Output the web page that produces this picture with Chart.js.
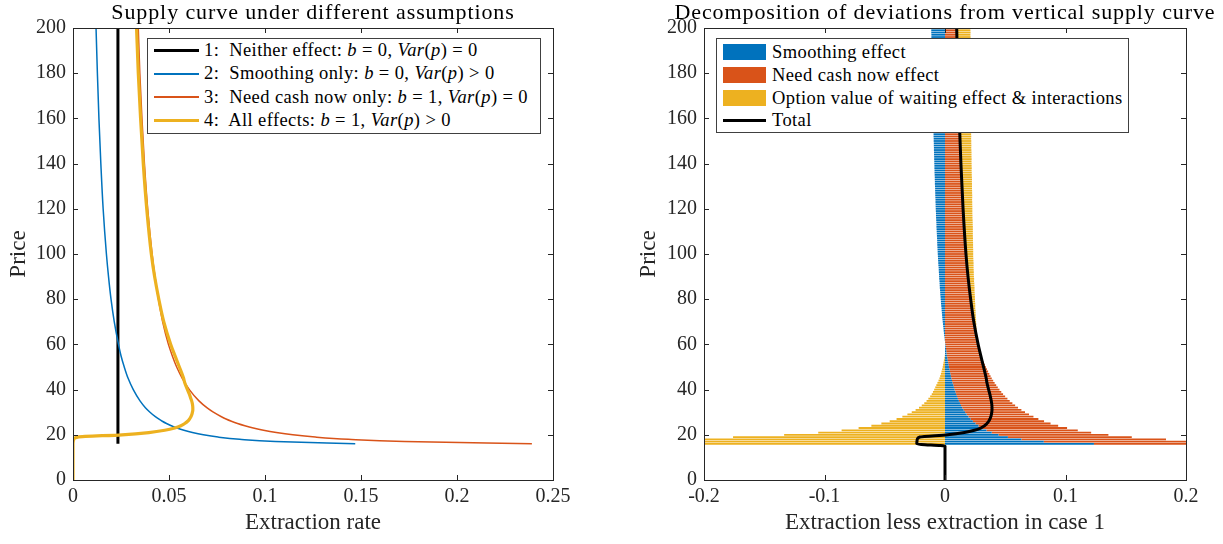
<!DOCTYPE html>
<html>
<head>
<meta charset="utf-8">
<script src="https://cdn.jsdelivr.net/npm/chart.js@4.4.1/dist/chart.umd.min.js"></script>
<style>
  body { margin: 0; width: 1223px; height: 544px; background: #fff; position: relative; overflow: hidden;
         font-family: 'Liberation Serif', 'DejaVu Serif', serif; color: #000; }
  canvas { position: absolute; top: 0; }
  #left  { left: 0; }
  #right { left: 620px; }
  .titre { position: absolute; top: 0; font-size: 22px; letter-spacing: 0.9px; line-height: 24px; white-space: nowrap; transform: translateX(-50%); }
  .legende { position: absolute; background: #fff; border: 1px solid #404040; box-sizing: border-box; }
  .ligne { position: absolute; left: 6px; height: 22px; display: flex; align-items: center; font-size: 18.5px; letter-spacing: 0.4px; white-space: nowrap; }
  .trait { display: inline-block; width: 45px; margin-right: 5px; }
  .carre { display: inline-block; width: 43px; height: 16px; margin-right: 6px; }
  i { font-style: italic; }
</style>
</head>
<body>
<canvas id="left" width="600" height="544"></canvas>
<canvas id="right" width="603" height="544"></canvas>

<div class="titre" style="left:313px">Supply curve under different assumptions</div>
<div class="titre" style="left:945px">Decomposition of deviations from vertical supply curve</div>

<div class="legende" style="left:147px;top:38px;width:394px;height:96px">
  <div class="ligne" style="top:0px"><span class="trait" style="height:3px;background:#000"></span>1:&nbsp; Neither effect:&nbsp; <i>b</i>&nbsp;=&nbsp;0, <i>&nbsp;Var</i>(<i>p</i>)&nbsp;=&nbsp;0</div>
  <div class="ligne" style="top:23.5px"><span class="trait" style="height:2px;background:#0072BD"></span>2:&nbsp; Smoothing only:&nbsp; <i>b</i>&nbsp;=&nbsp;0, <i>&nbsp;Var</i>(<i>p</i>)&nbsp;&gt;&nbsp;0</div>
  <div class="ligne" style="top:47px"><span class="trait" style="height:2px;background:#D95319"></span>3:&nbsp; Need cash now only:&nbsp; <i>b</i>&nbsp;=&nbsp;1, <i>&nbsp;Var</i>(<i>p</i>)&nbsp;=&nbsp;0</div>
  <div class="ligne" style="top:70px"><span class="trait" style="height:3px;background:#EDB120"></span>4:&nbsp; All effects:&nbsp; <i>b</i>&nbsp;=&nbsp;1, <i>&nbsp;Var</i>(<i>p</i>)&nbsp;&gt;&nbsp;0</div>
</div>

<div class="legende" style="left:716px;top:38px;width:413px;height:95px">
  <div class="ligne" style="top:2px"><span class="carre" style="background:#0072BD"></span>Smoothing effect</div>
  <div class="ligne" style="top:25px"><span class="carre" style="background:#D95319"></span>Need cash now effect</div>
  <div class="ligne" style="top:48px"><span class="carre" style="background:#EDB120"></span>Option value of waiting effect &amp; interactions</div>
  <div class="ligne" style="top:70px"><span class="trait" style="width:43px;margin-right:6px;height:3px;background:#000"></span>Total</div>
</div>

<script>
// ── DONNÉES PANNEAU GAUCHE (taux d'extraction selon le prix) ──
const case1Price = [16, 200];
const case1X     = [0.0234, 0.0234];

const casePrice = [16, 17, 18, 19, 20, 21, 22, 23, 24, 25, 26, 27, 28, 30, 32, 35, 40, 45, 50, 55, 60, 70, 80, 90, 100, 120, 140, 160, 180, 200];
const case2X = [0.1470, 0.1054, 0.0868, 0.0756, 0.0679, 0.0622, 0.0578, 0.0542, 0.0512, 0.0487, 0.0465, 0.0446, 0.0429, 0.0401, 0.0377,
                0.0349, 0.0314, 0.0287, 0.0267, 0.0250, 0.0237, 0.0215, 0.0198, 0.0185, 0.0174, 0.0157, 0.0145, 0.0135, 0.0127, 0.0120];
const case3X = [0.2390, 0.1726, 0.1434, 0.1262, 0.1145, 0.1059, 0.0992, 0.0939, 0.0895, 0.0857, 0.0825, 0.0797, 0.0773, 0.0731, 0.0697,
                0.0656, 0.0606, 0.0569, 0.0540, 0.0517, 0.0497, 0.0467, 0.0445, 0.0427, 0.0412, 0.0389, 0.0372, 0.0359, 0.0348, 0.0340];

const case4Price = [0, 15, 16, 17, 18, 19, 20, 21, 22, 23, 24, 25, 26, 27, 28, 29, 30, 31, 32, 33, 34, 35, 36, 38, 40, 43, 45, 50, 55, 60, 70, 80, 90, 100, 120, 140, 160, 180, 200];
const case4X = [0, 0, 0, 0.0001, 0.0004, 0.0025, 0.0255, 0.0395, 0.0478, 0.0530, 0.0562, 0.0582, 0.0597, 0.0607, 0.0614, 0.0619, 0.0622, 0.0624, 0.0624,
                0.0623, 0.0621, 0.0618, 0.0614, 0.0606, 0.0596, 0.0582, 0.0576, 0.0554, 0.0531, 0.0509, 0.0473, 0.0447, 0.0425, 0.0408, 0.0384,
                0.0366, 0.0352, 0.0340, 0.0331];

// ── DONNÉES PANNEAU DROIT (une barre par prix entier) ──
const barPrices = [
   16,  17,  18,  19,  20,  21,  22,  23,  24,  25,  26,  27,  28,  29,  30,  31,  32,  33,  34,  35,  36,  37,  38,  39,  40,
   41,  42,  43,  44,  45,  46,  47,  48,  49,  50,  51,  52,  53,  54,  55,  56,  57,  58,  59,  60,  61,  62,  63,  64,  65,
   66,  67,  68,  69,  70,  71,  72,  73,  74,  75,  76,  77,  78,  79,  80,  81,  82,  83,  84,  85,  86,  87,  88,  89,  90,
   91,  92,  93,  94,  95,  96,  97,  98,  99, 100, 101, 102, 103, 104, 105, 106, 107, 108, 109, 110, 111, 112, 113, 114, 115,
  116, 117, 118, 119, 120, 121, 122, 123, 124, 125, 126, 127, 128, 129, 130, 131, 132, 133, 134, 135, 136, 137, 138, 139, 140,
  141, 142, 143, 144, 145, 146, 147, 148, 149, 150, 151, 152, 153, 154, 155, 156, 157, 158, 159, 160, 161, 162, 163, 164, 165,
  166, 167, 168, 169, 170, 171, 172, 173, 174, 175, 176, 177, 178, 179, 180, 181, 182, 183, 184, 185, 186, 187, 188, 189, 190,
  191, 192, 193, 194, 195, 196, 197, 198, 199, 200];

const smoothing = [
  0.1236, 0.0820, 0.0634, 0.0522, 0.0445, 0.0388, 0.0344, 0.0308, 0.0278, 0.0253, 0.0231, 0.0212, 0.0195, 0.0180, 0.0167,
  0.0155, 0.0143, 0.0133, 0.0124, 0.0115, 0.0107, 0.0099, 0.0092, 0.0086, 0.0080,
  0.0074, 0.0069, 0.0063, 0.0058, 0.0053, 0.0049, 0.0045, 0.0041, 0.0037, 0.0033,
  0.0030, 0.0026, 0.0023, 0.0019, 0.0016, 0.0013, 0.0011, 0.0008, 0.0006, 0.0003,
  0.0001, -0.0002, -0.0004, -0.0007, -0.0009, -0.0011, -0.0013, -0.0015, -0.0017, -0.0019,
  -0.0021, -0.0023, -0.0024, -0.0026, -0.0028, -0.0029, -0.0031, -0.0033, -0.0034, -0.0036,
  -0.0037, -0.0039, -0.0040, -0.0041, -0.0043, -0.0044, -0.0045, -0.0046, -0.0048, -0.0049,
  -0.0050, -0.0051, -0.0052, -0.0053, -0.0055, -0.0056, -0.0057, -0.0058, -0.0059, -0.0060,
  -0.0061, -0.0062, -0.0063, -0.0064, -0.0065, -0.0065, -0.0066, -0.0067, -0.0068, -0.0069,
  -0.0070, -0.0071, -0.0071, -0.0072, -0.0073, -0.0074, -0.0075, -0.0075, -0.0076, -0.0077,
  -0.0078, -0.0078, -0.0079, -0.0079, -0.0080, -0.0081, -0.0081, -0.0082, -0.0082, -0.0083,
  -0.0084, -0.0084, -0.0085, -0.0085, -0.0086, -0.0087, -0.0087, -0.0088, -0.0088, -0.0089,
  -0.0089, -0.0090, -0.0090, -0.0091, -0.0091, -0.0092, -0.0092, -0.0093, -0.0093, -0.0094,
  -0.0094, -0.0095, -0.0095, -0.0096, -0.0096, -0.0097, -0.0097, -0.0098, -0.0098, -0.0099,
  -0.0099, -0.0100, -0.0100, -0.0101, -0.0101, -0.0101, -0.0102, -0.0102, -0.0103, -0.0103,
  -0.0103, -0.0104, -0.0104, -0.0105, -0.0105, -0.0105, -0.0106, -0.0106, -0.0107, -0.0107,
  -0.0107, -0.0108, -0.0108, -0.0109, -0.0109, -0.0109, -0.0110, -0.0110, -0.0111, -0.0111,
  -0.0111, -0.0112, -0.0112, -0.0112, -0.0113, -0.0113, -0.0113, -0.0114, -0.0114, -0.0114];

const needCash = [
  0.2156, 0.1492, 0.1200, 0.1028, 0.0911, 0.0825, 0.0758, 0.0705, 0.0661, 0.0623, 0.0591, 0.0563, 0.0539, 0.0517, 0.0497,
  0.0479, 0.0463, 0.0449, 0.0435, 0.0422, 0.0411, 0.0400, 0.0390, 0.0381, 0.0372,
  0.0364, 0.0356, 0.0349, 0.0342, 0.0335, 0.0329, 0.0323, 0.0317, 0.0311, 0.0306,
  0.0301, 0.0296, 0.0292, 0.0287, 0.0283, 0.0279, 0.0275, 0.0271, 0.0267, 0.0263,
  0.0260, 0.0256, 0.0253, 0.0250, 0.0247, 0.0244, 0.0241, 0.0238, 0.0236, 0.0233,
  0.0231, 0.0228, 0.0226, 0.0224, 0.0222, 0.0219, 0.0217, 0.0215, 0.0213, 0.0211,
  0.0209, 0.0207, 0.0205, 0.0203, 0.0202, 0.0200, 0.0198, 0.0196, 0.0195, 0.0193,
  0.0191, 0.0190, 0.0188, 0.0187, 0.0185, 0.0184, 0.0182, 0.0181, 0.0179, 0.0178,
  0.0177, 0.0176, 0.0174, 0.0173, 0.0172, 0.0171, 0.0170, 0.0168, 0.0167, 0.0166,
  0.0165, 0.0164, 0.0163, 0.0162, 0.0161, 0.0159, 0.0158, 0.0157, 0.0156, 0.0155,
  0.0154, 0.0153, 0.0152, 0.0151, 0.0151, 0.0150, 0.0149, 0.0148, 0.0147, 0.0146,
  0.0145, 0.0144, 0.0144, 0.0143, 0.0142, 0.0141, 0.0140, 0.0140, 0.0139, 0.0138,
  0.0137, 0.0137, 0.0136, 0.0135, 0.0135, 0.0134, 0.0133, 0.0133, 0.0132, 0.0131,
  0.0130, 0.0130, 0.0129, 0.0129, 0.0128, 0.0127, 0.0127, 0.0126, 0.0126, 0.0125,
  0.0124, 0.0124, 0.0123, 0.0123, 0.0122, 0.0121, 0.0121, 0.0120, 0.0120, 0.0119,
  0.0119, 0.0118, 0.0118, 0.0117, 0.0117, 0.0116, 0.0116, 0.0115, 0.0115, 0.0114,
  0.0114, 0.0113, 0.0113, 0.0113, 0.0112, 0.0112, 0.0111, 0.0111, 0.0110, 0.0110,
  0.0110, 0.0109, 0.0109, 0.0108, 0.0108, 0.0108, 0.0107, 0.0107, 0.0106, 0.0106];

const optionValue = [
  -0.3626, -0.2545, -0.2064, -0.1759, -0.1335, -0.1052, -0.0858, -0.0717, -0.0611, -0.0528, -0.0459, -0.0402, -0.0354, -0.0312, -0.0276,
  -0.0244, -0.0216, -0.0193, -0.0172, -0.0153, -0.0138, -0.0123, -0.0110, -0.0100, -0.0090,
  -0.0081, -0.0072, -0.0063, -0.0054, -0.0046, -0.0040, -0.0034, -0.0029, -0.0024, -0.0019,
  -0.0016, -0.0012, -0.0009, -0.0005, -0.0002, 0.0001, 0.0002, 0.0005, 0.0006, 0.0009,
  0.0010, 0.0012, 0.0014, 0.0016, 0.0018, 0.0019, 0.0021, 0.0022, 0.0024, 0.0025,
  0.0027, 0.0028, 0.0029, 0.0030, 0.0032, 0.0032, 0.0034, 0.0036, 0.0036, 0.0038,
  0.0039, 0.0040, 0.0041, 0.0042, 0.0043, 0.0044, 0.0045, 0.0045, 0.0047, 0.0047,
  0.0048, 0.0049, 0.0050, 0.0050, 0.0052, 0.0053, 0.0054, 0.0054, 0.0055, 0.0056,
  0.0057, 0.0058, 0.0059, 0.0060, 0.0061, 0.0061, 0.0062, 0.0063, 0.0064, 0.0065,
  0.0066, 0.0067, 0.0067, 0.0068, 0.0068, 0.0069, 0.0070, 0.0070, 0.0071, 0.0072,
  0.0073, 0.0073, 0.0074, 0.0074, 0.0075, 0.0076, 0.0076, 0.0077, 0.0077, 0.0078,
  0.0079, 0.0079, 0.0080, 0.0080, 0.0080, 0.0081, 0.0081, 0.0082, 0.0082, 0.0083,
  0.0083, 0.0084, 0.0084, 0.0085, 0.0085, 0.0085, 0.0085, 0.0086, 0.0086, 0.0087,
  0.0087, 0.0088, 0.0088, 0.0089, 0.0089, 0.0090, 0.0090, 0.0091, 0.0091, 0.0092,
  0.0092, 0.0093, 0.0093, 0.0094, 0.0094, 0.0094, 0.0094, 0.0094, 0.0095, 0.0095,
  0.0095, 0.0096, 0.0096, 0.0097, 0.0097, 0.0097, 0.0098, 0.0098, 0.0099, 0.0099,
  0.0099, 0.0100, 0.0100, 0.0101, 0.0101, 0.0101, 0.0101, 0.0101, 0.0102, 0.0102,
  0.0102, 0.0103, 0.0103, 0.0103, 0.0104, 0.0104, 0.0104, 0.0105, 0.0105, 0.0105];

const totalPrice = [0, 15, 16, 17, 18, 19, 20, 21, 22, 23, 24, 25, 26, 27, 28, 29, 30, 31, 32, 33, 34, 35, 36, 38, 40, 43, 45, 50, 55, 60, 70, 80, 90, 100, 120, 140, 160, 180, 200];
const totalValue = [0, 0, -0.0234, -0.0233, -0.0230, -0.0209, 0.0021, 0.0161, 0.0244, 0.0296, 0.0328, 0.0348, 0.0363, 0.0373, 0.0380, 0.0385,
                    0.0388, 0.0390, 0.0390, 0.0389, 0.0387, 0.0384, 0.0380, 0.0372, 0.0362, 0.0348, 0.0342, 0.0320, 0.0297, 0.0275,
                    0.0239, 0.0213, 0.0191, 0.0174, 0.0150, 0.0132, 0.0118, 0.0106, 0.0097];

const priceTicks = [0, 20, 40, 60, 80, 100, 120, 140, 160, 180, 200];

// ── COULEURS ──
const BLEU   = '#0072BD';
const ORANGE = '#D95319';
const JAUNE  = '#EDB120';
const NOIR   = '#000000';
const AXE    = '#262626';
const POLICE = "'Liberation Serif', 'DejaVu Serif', serif";

// points {x, y} avec le prix sur l'axe vertical
function points(prix, valeurs) {
  return prix.map(function(p, i) { return { x: valeurs[i], y: p }; });
}

function fmt(v) { return String(+v.toFixed(2)); }

// cadre + graduations tournées vers l'intérieur, façon MATLAB
const cadre = {
  id: 'cadre',
  afterDatasetsDraw(chart) {
    const { ctx, chartArea: a, scales } = chart;
    const L = 5;
    ctx.save();
    ctx.strokeStyle = AXE;
    ctx.lineWidth = 1;
    ctx.beginPath();
    scales.x.ticks.forEach(function(t) {
      const px = Math.round(scales.x.getPixelForValue(t.value)) + 0.5;
      ctx.moveTo(px, a.bottom); ctx.lineTo(px, a.bottom - L);
      ctx.moveTo(px, a.top);    ctx.lineTo(px, a.top + L);
    });
    scales.y.ticks.forEach(function(t) {
      const py = Math.round(scales.y.getPixelForValue(t.value)) + 0.5;
      ctx.moveTo(a.left, py);  ctx.lineTo(a.left + L, py);
      ctx.moveTo(a.right, py); ctx.lineTo(a.right - L, py);
    });
    ctx.stroke();
    ctx.strokeRect(Math.round(a.left) + 0.5, Math.round(a.top) + 0.5, Math.round(a.width), Math.round(a.height));
    ctx.restore();
  }
};

function axeX(min, max, pas, titre) {
  return {
    type: 'linear', position: 'bottom', min: min, max: max,
    grid: { display: false, drawTicks: false }, border: { display: false },
    ticks: { stepSize: pas, padding: 5, color: AXE, font: { family: POLICE, size: 20 }, callback: fmt, maxRotation: 0 },
    title: { display: true, text: titre, color: AXE, font: { family: POLICE, size: 23 }, padding: { top: 0, bottom: 7 } },
    afterFit: function(s) { s.height = 64; }
  };
}

function axeY(largeur, decalage) {
  return {
    type: 'linear', position: 'left', min: 0, max: 200, offset: false, stacked: true,
    grid: { display: false, drawTicks: false }, border: { display: false },
    afterBuildTicks: function(s) { s.ticks = priceTicks.map(function(v) { return { value: v }; }); },
    ticks: { padding: 7, color: AXE, font: { family: POLICE, size: 20 } },
    title: { display: true, text: 'Price', color: AXE, font: { family: POLICE, size: 23 }, padding: { top: decalage, bottom: 0 } },
    afterFit: function(s) { s.width = largeur; }
  };
}

// ── PANNEAU GAUCHE ──
new Chart(document.getElementById('left'), {
  type: 'line',
  data: {
    datasets: [
      { label: '4', data: points(case4Price, case4X), borderColor: JAUNE,  borderWidth: 3.2, order: 0 },
      { label: '3', data: points(casePrice, case3X),  borderColor: ORANGE, borderWidth: 1.5, order: 1 },
      { label: '2', data: points(casePrice, case2X),  borderColor: BLEU,   borderWidth: 1.5, order: 2 },
      { label: '1', data: points(case1Price, case1X), borderColor: NOIR,   borderWidth: 3,   order: 3 }
    ]
  },
  options: {
    indexAxis: 'y', responsive: false, animation: false,
    layout: { padding: { top: 28, right: 47, left: 0, bottom: 0 } },
    elements: { point: { radius: 0 }, line: { cubicInterpolationMode: 'monotone', fill: false } },
    plugins: { legend: { display: false }, tooltip: { enabled: false } },
    scales: { x: axeX(0, 0.25, 0.05, 'Extraction rate'), y: axeY(73, 5) }
  },
  plugins: [cadre]
});

// ── PANNEAU DROIT ──
new Chart(document.getElementById('right'), {
  type: 'bar',
  data: {
    datasets: [
      { type: 'line', label: 'Total', data: points(totalPrice, totalValue), borderColor: NOIR, borderWidth: 3,
        stack: 'total', order: 0, pointRadius: 0, cubicInterpolationMode: 'monotone', fill: false },
      { label: 'Smoothing effect', data: points(barPrices, smoothing), backgroundColor: BLEU, stack: 'barres', order: 1, clip: 0 },
      { label: 'Need cash now effect', data: points(barPrices, needCash), backgroundColor: ORANGE, stack: 'barres', order: 1, clip: 0 },
      { label: 'Option value of waiting effect & interactions', data: points(barPrices, optionValue), backgroundColor: JAUNE, stack: 'barres', order: 1, clip: 0 }
    ]
  },
  options: {
    indexAxis: 'y', responsive: false, animation: false,
    layout: { padding: { top: 28, right: 37, left: 0, bottom: 0 } },
    datasets: { bar: { barPercentage: 0.8, categoryPercentage: 1, borderWidth: 0 } },
    plugins: { legend: { display: false }, tooltip: { enabled: false } },
    scales: {
      x: Object.assign(axeX(-0.2, 0.2, 0.1, 'Extraction less extraction in case 1'), { stacked: true }),
      y: axeY(84, 15)
    }
  },
  plugins: [cadre]
});
</script>
</body>
</html>
